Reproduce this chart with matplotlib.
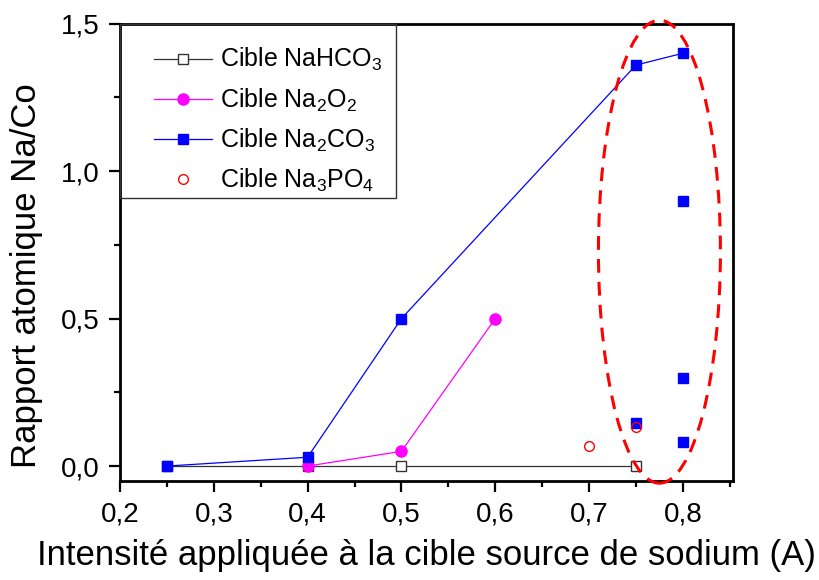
import matplotlib
matplotlib.use("Agg")
import matplotlib.pyplot as plt
from matplotlib.patches import Ellipse, Rectangle
from matplotlib.lines import Line2D
from matplotlib.legend_handler import HandlerLine2D
from matplotlib.ticker import MultipleLocator, FuncFormatter

plt.rcParams['font.family'] = ['Liberation Sans', 'DejaVu Sans']
plt.rcParams['mathtext.fontset'] = 'custom'
plt.rcParams['mathtext.rm'] = 'Liberation Sans'
plt.rcParams['mathtext.default'] = 'regular'

# data
x_nahco3 = [0.25, 0.40, 0.50, 0.75]
y_nahco3 = [0.0, 0.0, 0.0, 0.0]

x_na2o2 = [0.40, 0.50, 0.60]
y_na2o2 = [0.0, 0.05, 0.50]

x_na2co3 = [0.25, 0.40, 0.50, 0.75, 0.80]
y_na2co3 = [0.0, 0.03, 0.50, 1.36, 1.40]

# extra Na2CO3 points (no line)
x_na2co3_pts = [0.75, 0.80, 0.80, 0.80]
y_na2co3_pts = [0.145, 0.90, 0.30, 0.08]

x_na3po4 = [0.70, 0.75]
y_na3po4 = [0.068, 0.133]

fig = plt.figure(figsize=(8.19, 5.80), dpi=100)
ax = fig.add_axes([0.1465, 0.171, 0.748, 0.788])

ax.plot(x_nahco3, y_nahco3, color='#333333', lw=0.9, marker='s', ms=6.5,
        mfc='white', mec='#333333', mew=1.0, label='Cible NaHCO$_3$', zorder=2)
ax.plot(x_na2o2, y_na2o2, color='magenta', lw=0.9, marker='o', ms=8,
        mfc='magenta', mec='magenta', label='Cible Na$_2$O$_2$', zorder=3)
ax.plot(x_na2co3, y_na2co3, color='blue', lw=0.9, marker='s', ms=7,
        mfc='blue', mec='blue', label='Cible Na$_2$CO$_3$', zorder=3)
ax.plot(x_na2co3_pts, y_na2co3_pts, ls='none', marker='s', ms=7,
        mfc='blue', mec='blue', zorder=3)
ax.plot(x_na3po4, y_na3po4, ls='none', marker='o', ms=7,
        mfc='none', mec='red', mew=1.0, label='Cible Na$_3$PO$_4$', zorder=4)

# dashed ellipse around the high intensity points
ell = Ellipse((0.775, 0.727), width=0.13, height=1.57, fill=False,
              edgecolor='red', ls=(0, (4.5, 3)), lw=2.2, clip_on=False, zorder=5)
ax.add_patch(ell)

ax.set_xlim(0.2, 0.853)
ax.set_ylim(-0.05, 1.5)

comma = FuncFormatter(lambda v, p: ('%.1f' % v).replace('.', ','))
ax.xaxis.set_major_locator(MultipleLocator(0.1))
ax.xaxis.set_minor_locator(MultipleLocator(0.05))
ax.yaxis.set_major_locator(MultipleLocator(0.5))
ax.yaxis.set_minor_locator(MultipleLocator(0.25))
ax.xaxis.set_major_formatter(comma)
ax.yaxis.set_major_formatter(comma)

ax.tick_params(which='both', direction='out', top=False, right=False, width=1.6)
ax.tick_params(which='major', length=8, labelsize=20, pad=7)
ax.tick_params(which='minor', length=4.5)

for s in ax.spines.values():
    s.set_linewidth(2.0)

ax.set_xlabel('Intensité appliquée à la cible source de sodium (A)', fontsize=25, labelpad=8)
ax.set_ylabel('Rapport atomique Na/Co', fontsize=25)
ax.yaxis.set_label_coords(-0.125, 0.45)

# legend without its own frame; the box is drawn separately
leg = ax.legend(loc='upper left', bbox_to_anchor=(0.0, 1.0), borderaxespad=0,
                fontsize=18, frameon=False, handlelength=2.8,
                labelspacing=0.52, borderpad=0.9, handletextpad=0.32,
                handler_map={Line2D: HandlerLine2D(xpad=0.45)})
box = Rectangle((0.0, 0.619), 0.451, 0.381, transform=ax.transAxes, fill=False,
                edgecolor='#333333', lw=1.0, zorder=6)
ax.add_patch(box)

fig.savefig('out.png', dpi=100)
